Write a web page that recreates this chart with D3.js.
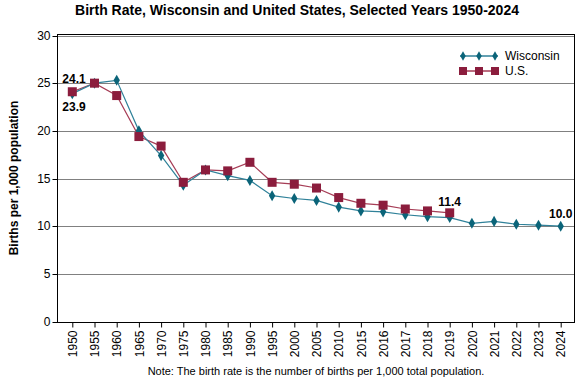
<!DOCTYPE html>
<html lang="en">
<head>
    <meta charset="UTF-8">
    <title>Birth Rate, Wisconsin and United States</title>
    <script src="https://d3js.org/d3.v7.min.js"></script>
    <style>
        body { margin: 0; background: #fff; }
        svg { font-family: "Liberation Sans", Arial, sans-serif; }
        .grid line { stroke: #808080; stroke-width: 1; }
        .tick text { font-size: 12px; fill: #000; }
    </style>
</head>
<body>
    <svg width="576" height="384"></svg>
    <script>
        const years = ["1950", "1955", "1960", "1965", "1970", "1975", "1980", "1985", "1990", "1995",
            "2000", "2005", "2010", "2015", "2016", "2017", "2018", "2019", "2020", "2021", "2022", "2023", "2024"];
        const wisconsin = [23.9, 25.0, 25.3, 20.0, 17.4, 14.3, 15.9, 15.3, 14.8, 13.2,
            12.9, 12.7, 12.0, 11.6, 11.5, 11.2, 11.0, 10.9, 10.3, 10.5, 10.2, 10.1, 10.0];
        const us = [24.1, 25.0, 23.7, 19.4, 18.4, 14.6, 15.9, 15.8, 16.7, 14.6,
            14.4, 14.0, 13.0, 12.4, 12.2, 11.8, 11.6, 11.4];
        const yTicks = [0, 5, 10, 15, 20, 25, 30];

        const svg = d3.select("svg");
        const plotLeft = 57, plotRight = 575, plotTop = 35.5, plotBottom = 321.5;

        const x = d3.scalePoint().domain(years).range([72.3, 560.7]);
        const y = d3.scaleLinear().domain([0, 30]).range([plotBottom, plotTop]);

        // gridlines
        svg.append("g").attr("class", "grid")
            .selectAll("line").data(yTicks).join("line")
            .attr("x1", plotLeft).attr("x2", plotRight)
            .attr("y1", d => Math.round(y(d)) + 0.5).attr("y2", d => Math.round(y(d)) + 0.5);

        // frame
        svg.append("rect")
            .attr("x", plotLeft + 0.5).attr("y", 34.5)
            .attr("width", plotRight - plotLeft - 1).attr("height", 288)
            .attr("fill", "none").attr("stroke", "#000");

        // y axis
        const yAxis = svg.append("g")
            .attr("transform", `translate(${plotLeft + 0.5},0.5)`)
            .call(d3.axisLeft(y).tickValues(yTicks).tickSize(5).tickPadding(2));
        yAxis.select(".domain").remove();
        yAxis.selectAll(".tick line").attr("stroke", "#000");
        yAxis.selectAll(".tick").attr("transform", d => `translate(0,${Math.round(y(d))})`);

        // x axis
        const xAxis = svg.append("g")
            .attr("transform", "translate(0,322.5)")
            .call(d3.axisBottom(x).tickSize(5).tickSizeOuter(0));
        xAxis.select(".domain").remove();
        xAxis.selectAll(".tick line").attr("stroke", "#000");
        xAxis.selectAll(".tick text")
            .attr("transform", "rotate(-90)")
            .attr("text-anchor", "end")
            .attr("x", -8).attr("y", 0).attr("dy", "0.35em");

        const wiLine = "#2f8199", wiMark = "#0b6479";
        const usLine = "#a63d56", usMark = "#8b1d3d";

        const line = d3.line().x((d, i) => x(years[i])).y(d => y(d));

        svg.append("path").datum(us)
            .attr("d", line).attr("fill", "none")
            .attr("stroke", usLine).attr("stroke-width", 1.2);
        svg.append("path").datum(wisconsin)
            .attr("d", line).attr("fill", "none")
            .attr("stroke", wiLine).attr("stroke-width", 1.2);

        const diamond = d3.symbol().type(d3.symbolDiamond).size(32);

        svg.append("g").selectAll("path").data(wisconsin).join("path")
            .attr("d", diamond)
            .attr("transform", (d, i) => `translate(${x(years[i])},${y(d)}) scale(1.05,1.05)`)
            .attr("fill", wiMark);

        svg.append("g").selectAll("rect").data(us).join("rect")
            .attr("x", (d, i) => x(years[i]) - 4.5)
            .attr("y", d => y(d) - 4.5)
            .attr("width", 9).attr("height", 9)
            .attr("fill", usMark);

        // data labels
        const labels = [
            { text: "24.1", x: x("1950") - 10, y: y(us[0]) - 9, anchor: "start" },
            { text: "23.9", x: x("1950") - 10, y: y(wisconsin[0]) + 17, anchor: "start" },
            { text: "11.4", x: x("2019"), y: y(us[17]) - 7, anchor: "middle" },
            { text: "10.0", x: x("2024"), y: y(wisconsin[22]) - 8, anchor: "middle" }
        ];
        svg.append("g").selectAll("text").data(labels).join("text")
            .attr("x", d => d.x).attr("y", d => d.y)
            .attr("text-anchor", d => d.anchor)
            .attr("font-size", 12).attr("font-weight", "bold")
            .text(d => d.text);

        // legend
        const legend = svg.append("g").attr("transform", "translate(460,56)");
        const legendItems = [
            { name: "Wisconsin", line: wiLine, mark: wiMark, type: "diamond" },
            { name: "U.S.", line: usLine, mark: usMark, type: "square" }
        ];
        legendItems.forEach((it, k) => {
            const g = legend.append("g").attr("transform", `translate(0,${k * 15})`);
            g.append("line").attr("x1", 0).attr("x2", 38).attr("y1", 0).attr("y2", 0)
                .attr("stroke", it.line).attr("stroke-width", 1.5);
            [3, 19, 35].forEach(px => {
                if (it.type === "diamond") {
                    g.append("path").attr("d", diamond)
                        .attr("transform", `translate(${px},0) scale(0.9,0.9)`)
                        .attr("fill", it.mark);
                } else {
                    g.append("rect").attr("x", px - 4).attr("y", -4)
                        .attr("width", 8).attr("height", 8).attr("fill", it.mark);
                }
            });
            g.append("text").attr("x", 45).attr("y", 0).attr("dy", "0.35em")
                .attr("font-size", 12).text(it.name);
        });

        // titles
        svg.append("text")
            .attr("x", 297).attr("y", 15)
            .attr("text-anchor", "middle")
            .attr("font-size", 14).attr("font-weight", "bold")
            .text("Birth Rate, Wisconsin and United States, Selected Years 1950-2024");

        svg.append("text")
            .attr("transform", "translate(18,178) rotate(-90)")
            .attr("text-anchor", "middle")
            .attr("font-size", 12).attr("font-weight", "bold")
            .text("Births per 1,000 population");

        svg.append("text")
            .attr("x", 316).attr("y", 375)
            .attr("text-anchor", "middle")
            .attr("font-size", 11)
            .text("Note: The birth rate is the number of births per 1,000 total population.");
    </script>
</body>
</html>
